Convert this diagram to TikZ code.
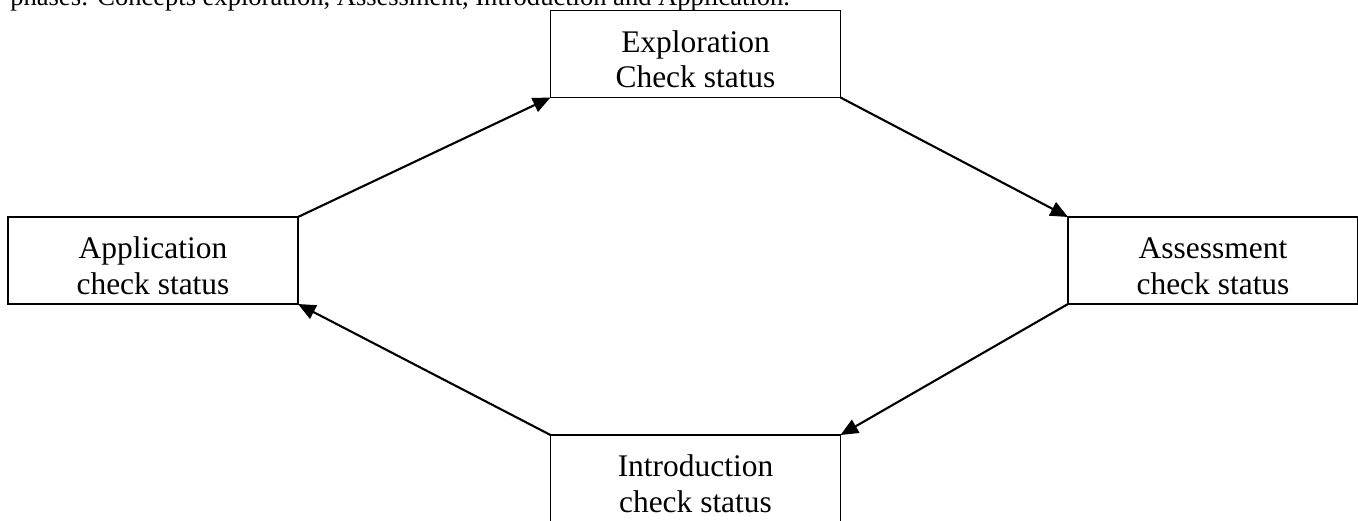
\documentclass[tikz,border=0pt]{standalone}
\usepackage{fontspec}
\setmainfont{Liberation Serif}
\usetikzlibrary{shapes}
\usetikzlibrary{arrows.meta}
\tikzset{
  phase/.style={draw, line width=0.9pt, minimum width=5.8cm, minimum height=1.74cm,
    outer sep=0pt, align=center, font=\fontsize{17.9}{20.2}\selectfont,
    text height=38.5pt},
  flow/.style={line width=1.2pt, -{Triangle[length=10pt,width=8.5pt]}}
}

\begin{document}
\begin{tikzpicture}
\useasboundingbox (0,0) rectangle (27.16,-10.42);
\clip (0,0) rectangle (27.16,-10.42);
\node[anchor=base west, inner sep=0pt, font=\fontsize{15.1}{18}\selectfont] (intro) at (0.2,-0.1)
  {phases: Concepts exploration, Assessment, Introduction and Application.};
\node[phase] (expl) at (13.91,-1.08) {Exploration\\Check status};
\node[phase] (appl) at (3.06,-5.21) {Application\\check status};
\node[phase] (asse) at (24.26,-5.21) {Assessment\\check status};
\node[phase] (intr) at (13.91,-9.57) {Introduction\\check status};
\draw[flow] (appl.north east) -- (expl.south west);
\draw[flow] (expl.south east) -- (asse.north west);
\draw[flow] (asse.south west) -- (intr.north east);
\draw[flow] (intr.north west) -- (appl.south east);
\end{tikzpicture}
\end{document}
